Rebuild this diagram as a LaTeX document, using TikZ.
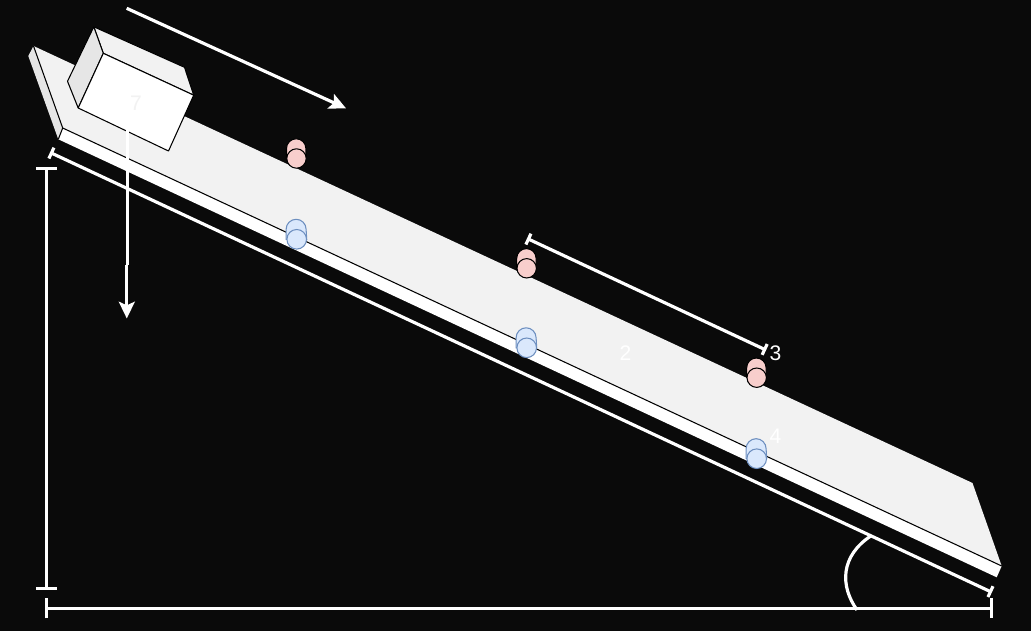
\documentclass[tikz,border=0pt]{standalone}
\usepackage{fontspec}
\setmainfont{Liberation Sans}
\usetikzlibrary{arrows.meta}
\definecolor{bgdark}{HTML}{0A0A0A}
\definecolor{faceLight}{HTML}{F2F2F2}
\definecolor{faceShade}{HTML}{E6E6E6}
\definecolor{pinkFill}{HTML}{F8CECC}
\definecolor{blueFill}{HTML}{DAE8FC}
\definecolor{blueEdge}{HTML}{6C8EBF}
\tikzset{
  edgeline/.style={draw=black, line width=0.6pt, line join=round},
  whiteline/.style={white, line width=1.8pt},
  forcearrow/.style={whiteline, -{Stealth[length=9.5pt, width=9pt, inset=2pt]}},
  longdim/.style={whiteline, {Bar[width=11.4pt]}-{Bar[width=11.4pt]}},
  slopedim/.style={whiteline, {Bar[width=6.8pt]}-{Bar[width=6.8pt]}},
  numlabel/.style={white, font=\fontsize{12}{14}\selectfont, inner sep=0pt},
  pinkroller/.style={fill=pinkFill, draw=black, line width=0.6pt},
  blueroller/.style={fill=blueFill, draw=blueEdge, line width=0.6pt}
}
\begin{document}
\begin{tikzpicture}[x=0.02cm, y=-0.02cm]
  % Page
  \fill[bgdark] (0,0) rectangle (1031,631);
  \useasboundingbox (0,0) rectangle (1031,631);

  % Coordinate definitions
  \coordinate (PlankA) at (33.5,46); % Back upper corner
  \coordinate (PlankB) at (62.7,128); % Front upper corner, high end
  \coordinate (PlankC) at (1001.7,566); % Front upper corner, low end
  \coordinate (PlankD) at (972.5,483); % Back upper corner, low end
  \coordinate (PlankE) at (58.3,139.3); % Front lower corner, high end
  \coordinate (PlankF) at (996.7,577.3); % Front lower corner, low end
  \coordinate (PlankG) at (28.3,56); % Side corner

  \coordinate (BoxA) at (103.3,53.3);
  \coordinate (BoxB) at (193.7,95.2);
  \coordinate (BoxC) at (168.5,151);
  \coordinate (BoxD) at (78.2,108);
  \coordinate (BoxE) at (93.8,26.8);
  \coordinate (BoxF) at (184.5,67.3);
  \coordinate (BoxG) at (67.5,81.3);

  % Draw plank
  \fill[faceLight] (PlankA) -- (PlankD) -- (PlankC) -- (PlankB) -- cycle;
  \fill[white] (PlankB) -- (PlankC) -- (PlankF) -- (PlankE) -- cycle;
  \fill[faceShade] (PlankA) -- (PlankB) -- (PlankE) -- (PlankG) -- cycle;
  \draw[edgeline] (PlankA) -- (PlankB) -- (PlankC);
  \draw[edgeline] (PlankB) -- (PlankE);

  % Draw box
  \filldraw[fill=faceLight, edgeline] (BoxE) -- (BoxF) -- (BoxB) -- (BoxA) -- cycle;
  \filldraw[fill=faceShade, edgeline] (BoxE) -- (BoxA) -- (BoxD) -- (BoxG) -- cycle;
  \filldraw[fill=white, edgeline] (BoxA) -- (BoxB) -- (BoxC) -- (BoxD) -- cycle;

  % Draw rollers, back part first
  \foreach \rx/\ry in {296.5/158.5, 526.7/268.3, 756.7/377.7} {
    \filldraw[pinkroller] (\rx-10,\ry-10) arc (180:360:9.7) -- (\rx+9.4,\ry) -- (\rx-10,\ry) -- cycle;
    \filldraw[pinkroller] (\rx,\ry) circle (9.7);
  }
  \foreach \rx/\ry in {296.7/239.3, 526.7/347.8, 756.7/458.7} {
    \filldraw[blueroller] (\rx-10.6,\ry-10) arc (180:360:10) -- (\rx+10,\ry) -- (\rx-10.6,\ry) -- cycle;
    \filldraw[blueroller] (\rx,\ry) circle (9.8);
  }

  % Draw arrows
  \coordinate (SlideFrom) at (126.7,8.3);
  \coordinate (SlideTo) at (346,108.3);
  \coordinate (FallFrom) at (127.2,118);
  \coordinate (FallBend) at (127.2,265);
  \coordinate (FallJoin) at (126.8,265);
  \coordinate (FallTo) at (126.8,318.5);
  \draw[forcearrow] (SlideFrom) -- (SlideTo);
  \draw[whiteline] (FallFrom) -- (FallBend);
  \draw[forcearrow] (FallJoin) -- (FallTo);

  % Draw dimensions
  \coordinate (SlopeTop) at (50,152.4);
  \coordinate (SlopeEnd) at (991.9,592.3);
  \coordinate (HeightTop) at (46.5,167);
  \coordinate (HeightEnd) at (46.5,589.8);
  \coordinate (BaseLeft) at (45,608.3);
  \coordinate (BaseRight) at (992.8,608.3);
  \coordinate (PitchA) at (527,238.4);
  \coordinate (PitchB) at (766.1,350.1);
  \draw[slopedim] (SlopeTop) -- (SlopeEnd);
  \draw[longdim] (HeightTop) -- (HeightEnd);
  \draw[longdim] (BaseLeft) -- (BaseRight);
  \draw[slopedim] (PitchA) -- (PitchB);

  % Draw angle
  \coordinate (AngleA) at (871.5,535.5);
  \coordinate (AngleB) at (857,610);
  \draw[whiteline] (AngleA) .. controls (840,556) and (840,586) .. (AngleB);

  % Labels
  \node[numlabel, text=faceLight] (LabelOne) at (136,103) {7};
  \node[numlabel] (LabelTwo) at (625.5,353) {2};
  \node[numlabel] (LabelThree) at (775.5,353) {3};
  \node[numlabel] (LabelFour) at (775.5,436) {4};
\end{tikzpicture}
\end{document}
